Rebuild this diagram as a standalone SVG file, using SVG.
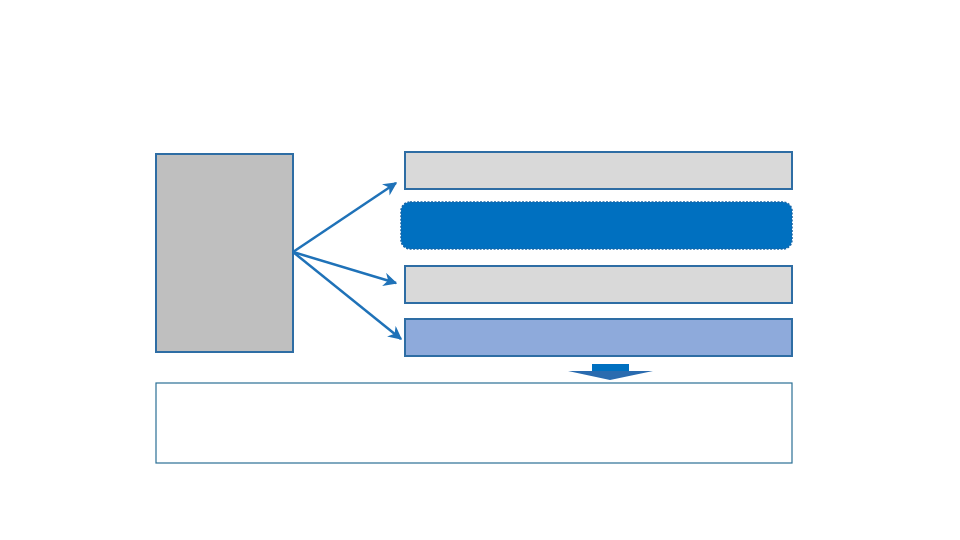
<svg xmlns="http://www.w3.org/2000/svg" width="960" height="540" viewBox="0 0 960 540">
<defs>
<style>
.box{stroke:#2E6DA4;stroke-width:2}
.conn{stroke:#1F72B8;stroke-width:2.5;fill:none}
</style>
<marker id="ah" viewBox="0 0 10 10" refX="9" refY="5" markerWidth="5.5" markerHeight="5.5" orient="auto" markerUnits="strokeWidth">
<path d="M0,0 L10,5 L0,10 L3,5 Z" fill="#1F72B8"/>
</marker>
</defs>
<rect width="960" height="540" fill="#FFFFFF"/>
<g id="source"><rect class="box" x="156" y="154" width="137" height="198" fill="#BFBFBF"/></g>
<g id="item1"><rect class="box" x="405" y="152" width="387" height="37" fill="#D9D9D9"/></g>
<g id="item2"><rect x="401" y="202" width="391" height="47" rx="9" fill="#0070C0" stroke="#1565A8" stroke-width="1.5" stroke-dasharray="2 1.5"/></g>
<g id="item3"><rect class="box" x="405" y="266" width="387" height="37" fill="#D9D9D9"/></g>
<g id="item4"><rect class="box" x="405" y="319" width="387" height="37" fill="#8EAADB"/></g>
<g id="result"><rect x="156" y="383" width="636" height="80" fill="#FFFFFF" stroke="#2A6F95" stroke-width="1.2"/></g>
<g id="downarrow">
<rect x="592" y="364" width="37" height="8" fill="#0070C0"/>
<path d="M568,371 L653,371 L610,380 Z" fill="#2A6BAF"/>
</g>
<g id="connectors">
<line class="conn" x1="293" y1="252" x2="396" y2="183" marker-end="url(#ah)"/>
<line class="conn" x1="293" y1="252" x2="396" y2="283" marker-end="url(#ah)"/>
<line class="conn" x1="293" y1="252" x2="401" y2="339" marker-end="url(#ah)"/>
</g>
</svg>
